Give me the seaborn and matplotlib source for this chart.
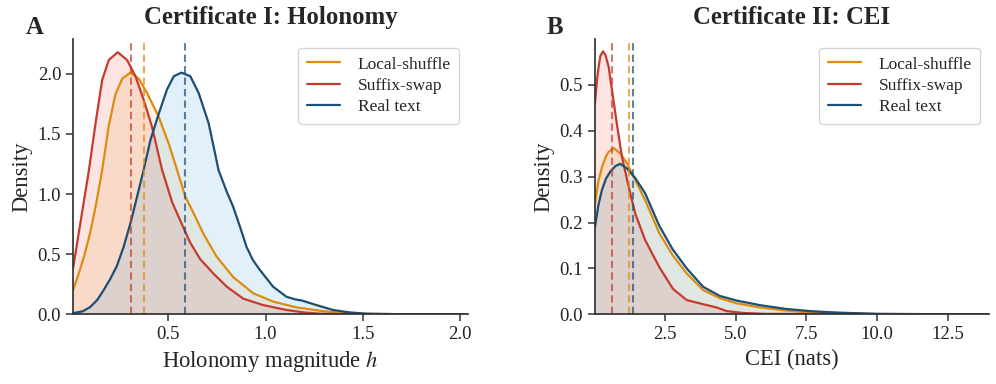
import matplotlib
matplotlib.use("Agg")
import matplotlib.pyplot as plt
import seaborn as sns
import pandas as pd

# ---------------- data ----------------
series_names = ["Local-shuffle", "Suffix-swap", "Real text"]

# Panel A: Holonomy magnitude h (density curves)
hol_shuffle_x = [0.01, 0.04, 0.07, 0.10, 0.13, 0.16, 0.194, 0.228, 0.263, 0.305, 0.348, 0.391, 0.451,
                 0.502, 0.545, 0.587, 0.63, 0.68, 0.748, 0.833, 0.936, 1.04, 1.158, 1.278, 1.33, 1.40,
                 1.48, 1.6, 1.8, 2.04]
hol_shuffle_y = [0.20, 0.34, 0.50, 0.69, 0.93, 1.20, 1.57, 1.83, 1.96, 2.01, 1.96, 1.84, 1.64,
                 1.42, 1.20, 0.98, 0.84, 0.67, 0.48, 0.31, 0.175, 0.105, 0.058, 0.03, 0.02, 0.012,
                 0.005, 0.002, 0.0, 0.0]

hol_swap_x = [0.01, 0.05, 0.092, 0.126, 0.16, 0.194, 0.240, 0.288, 0.331, 0.374, 0.416, 0.468, 0.52,
              0.586, 0.611, 0.663, 0.731, 0.80, 0.885, 0.987, 1.107, 1.2, 1.28, 1.4, 2.04]
hol_swap_y = [0.38, 0.78, 1.20, 1.59, 1.95, 2.115, 2.18, 2.115, 1.98, 1.78, 1.56, 1.20, 0.93,
              0.69, 0.60, 0.46, 0.34, 0.23, 0.13, 0.077, 0.036, 0.015, 0.005, 0.0, 0.0]

hol_real_x = [0.01, 0.06, 0.098, 0.135, 0.167, 0.20, 0.235, 0.27, 0.309, 0.37, 0.408, 0.451, 0.493,
              0.528, 0.567, 0.613, 0.656, 0.707, 0.758, 0.80, 0.833, 0.870, 0.902, 0.935, 0.970,
              1.038, 1.107, 1.15, 1.19, 1.26, 1.346, 1.43, 1.52, 1.7, 2.04]
hol_real_y = [0.01, 0.025, 0.06, 0.12, 0.20, 0.29, 0.40, 0.56, 0.78, 1.18, 1.45, 1.67, 1.87,
              1.98, 2.01, 1.98, 1.84, 1.59, 1.20, 1.02, 0.895, 0.72, 0.56, 0.45, 0.37,
              0.23, 0.146, 0.125, 0.113, 0.077, 0.036, 0.016, 0.005, 0.001, 0.0]

hol_means = [0.377, 0.309, 0.587]  # shuffle, swap, real

# Panel B: CEI (nats)
cei_shuffle_x = [0.03, 0.15, 0.275, 0.40, 0.51, 0.69, 0.92, 1.16, 1.45, 1.80, 2.30, 2.77, 3.27, 3.85,
                 4.44, 5.03, 5.85, 6.8, 7.73, 8.7, 10.0, 13.95]
cei_shuffle_y = [0.242, 0.29, 0.32, 0.342, 0.354, 0.362, 0.351, 0.329, 0.293, 0.249, 0.177, 0.129,
                 0.089, 0.053, 0.035, 0.024, 0.015, 0.008, 0.0035, 0.002, 0.0005, 0.0]

cei_swap_x = [0.03, 0.10, 0.16, 0.22, 0.31, 0.40, 0.51, 0.65, 0.80, 0.98, 1.22, 1.45, 1.80, 2.30,
              2.79, 3.27, 3.85, 4.32, 4.68, 5.25, 6.0, 13.95]
cei_swap_y = [0.46, 0.51, 0.54, 0.563, 0.573, 0.565, 0.54, 0.48, 0.416, 0.344, 0.278, 0.22, 0.162,
              0.103, 0.055, 0.031, 0.022, 0.015, 0.007, 0.003, 0.001, 0.0]

cei_real_x = [0.03, 0.15, 0.275, 0.42, 0.57, 0.75, 0.92, 1.16, 1.45, 1.80, 2.30, 2.77, 3.27, 3.85,
              4.44, 5.03, 5.85, 6.8, 7.73, 8.7, 10.0, 12.0, 13.95]
cei_real_y = [0.19, 0.238, 0.271, 0.296, 0.311, 0.323, 0.328, 0.318, 0.297, 0.264, 0.193, 0.142,
              0.10, 0.06, 0.04, 0.03, 0.02, 0.0115, 0.0065, 0.0035, 0.001, 0.0003, 0.0]

cei_means = [1.22, 0.64, 1.39]

panel_titles = ["Certificate I: Holonomy", "Certificate II: CEI"]
panel_letters = ["A", "B"]
x_labels = ["Holonomy magnitude $h$", "CEI (nats)"]
hol_xticks = [0.5, 1.0, 1.5, 2.0]
cei_xticks = [2.5, 5.0, 7.5, 10.0, 12.5]

# ---------------- style ----------------
sns.set_theme(style="ticks")
plt.rcParams["font.family"] = ["Liberation Serif", "DejaVu Serif"]
plt.rcParams["mathtext.fontset"] = "stix"
plt.rcParams["axes.edgecolor"] = "#333333"
plt.rcParams["axes.linewidth"] = 1.25
plt.rcParams["xtick.color"] = "#333333"
plt.rcParams["ytick.color"] = "#333333"
plt.rcParams["xtick.labelcolor"] = "#222222"
plt.rcParams["ytick.labelcolor"] = "#222222"

line_colors = ["#DD8C10", "#C63B2E", "#1D4E73"]
fill_colors = ["#F5B041", "#E74C3C", "#5DADE2"]
fill_alphas = [0.15, 0.15, 0.18]

fig = plt.figure(figsize=(9.96, 3.84), dpi=100)
axA = fig.add_axes([73 / 996, 1 - 314.3 / 384, (468 - 73) / 996, (314.3 - 39) / 384])
axB = fig.add_axes([595 / 996, 1 - 314.3 / 384, (989 - 595) / 996, (314.3 - 39) / 384])

panels = [
    (axA, [(hol_shuffle_x, hol_shuffle_y), (hol_swap_x, hol_swap_y), (hol_real_x, hol_real_y)],
     hol_means, (0.01, 2.04), (0, 2.29), hol_xticks, [0.0, 0.5, 1.0, 1.5, 2.0]),
    (axB, [(cei_shuffle_x, cei_shuffle_y), (cei_swap_x, cei_swap_y), (cei_real_x, cei_real_y)],
     cei_means, (0.03, 13.95), (0, 0.60), cei_xticks, [0.0, 0.1, 0.2, 0.3, 0.4, 0.5]),
]

for i, (ax, curves, means, xlim, ylim, xt, yt) in enumerate(panels):
    for j, (xs, ys) in enumerate(curves):
        df = pd.DataFrame({"x": xs, "y": ys})
        ax.fill_between(df["x"], 0, df["y"], color=fill_colors[j], alpha=fill_alphas[j], lw=0)
        sns.lineplot(data=df, x="x", y="y", ax=ax, color=line_colors[j], lw=1.6,
                     label=series_names[j], sort=False)
        ax.lines[-1].set_solid_joinstyle("round")
    for j, m in enumerate(means):
        ax.axvline(m, color=line_colors[j], ls="--", lw=1.5, alpha=0.7, dashes=(3.5, 2))
    ax.set_xlim(*xlim)
    ax.set_ylim(*ylim)
    ax.set_xticks(xt)
    ax.set_yticks(yt)
    ax.tick_params(labelsize=13.5, length=5, width=1.1)
    ax.set_xlabel(x_labels[i], fontsize=16.3, labelpad=4)
    ax.set_ylabel("Density", fontsize=16.3, labelpad=4)
    ax.set_title(panel_titles[i], fontsize=17.8, fontweight="bold", pad=11)
    leg = ax.legend(loc="upper right", fontsize=12.5, frameon=True, fancybox=True,
                    handlelength=1.9, handletextpad=1.0, borderpad=0.5, labelspacing=0.3)
    leg.get_frame().set_edgecolor("#cccccc")
    leg.get_frame().set_linewidth(1.0)
    sns.despine(ax=ax)

fig.text(26 / 996, 1 - 34 / 384, "A", fontsize=17.8, fontweight="bold", ha="left", va="baseline")
fig.text(547 / 996, 1 - 34 / 384, "B", fontsize=17.8, fontweight="bold", ha="left", va="baseline")

fig.savefig("out.png", dpi=100)
